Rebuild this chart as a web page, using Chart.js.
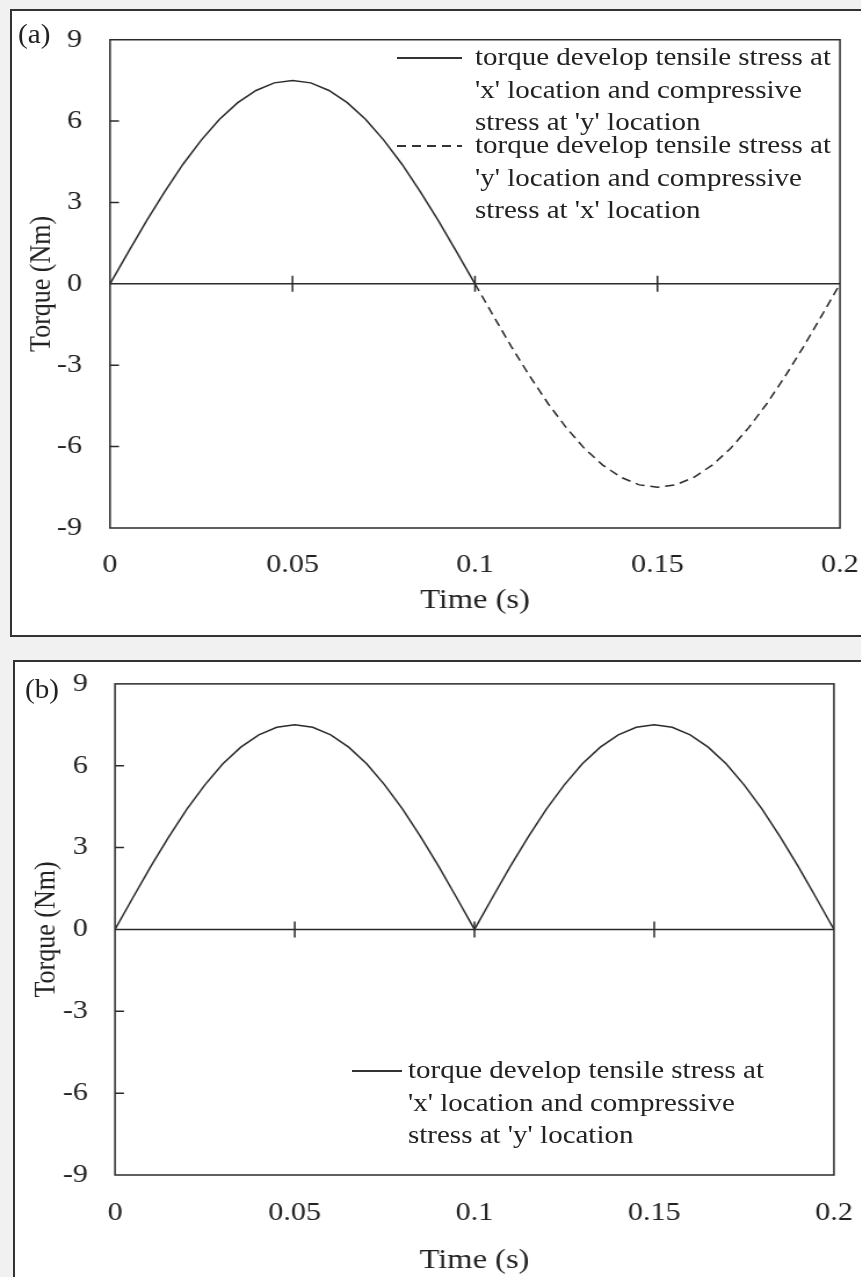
<!DOCTYPE html>
<html>
<head>
<meta charset="utf-8">
<script src="https://cdn.jsdelivr.net/npm/chart.js@4.4.1/dist/chart.umd.min.js"></script>
<style>
  html, body { margin: 0; padding: 0; }
  body { width: 861px; height: 1277px; overflow: hidden; position: relative; background: #f1f1f1; font-family: "Liberation Serif", "Times New Roman", serif; color: #222; }
  .panel { position: absolute; background: #fff; border: 2px solid #333; box-sizing: border-box; }
  /* the original figure is stretched sideways a little, so text and plot are drawn narrow and widened */
  .wrap { position: absolute; left: 0; transform-origin: 0 0; }
  .tag { position: absolute; font-size: 27px; line-height: 1; transform: scaleX(1.08); transform-origin: 0 0; }
  .legend { position: absolute; font-size: 25px; line-height: 32.5px; white-space: nowrap; transform-origin: 0 0; }
  .legend .sample { position: absolute; height: 1.5px; background: #333; }
  .legend .sample.dash { background: repeating-linear-gradient(90deg, #333 0 9px, transparent 9px 15px); }
</style>
</head>
<body>
<div class="panel" style="left:10px; top:9px; width:900px; height:628px;"></div>
<div class="panel" style="left:13px; top:660px; width:900px; height:700px;"></div>

<div class="wrap" id="wrapA" style="top:0; height:640px;"><canvas id="chartA"></canvas></div>
<div class="wrap" id="wrapB" style="top:645px; height:632px;"><canvas id="chartB"></canvas></div>

<div class="tag" style="left:18px; top:21px;">(a)</div>
<div class="tag" style="left:25px; top:676px;">(b)</div>

<div id="legendA"></div>
<div id="legendB"></div>

<script>
// values
const timeFirstHalf = [0, 0.005, 0.01, 0.015, 0.02, 0.025, 0.03, 0.035, 0.04, 0.045, 0.05,
  0.055, 0.06, 0.065, 0.07, 0.075, 0.08, 0.085, 0.09, 0.095, 0.1];
const timeSecondHalf = [0.1, 0.105, 0.11, 0.115, 0.12, 0.125, 0.13, 0.135, 0.14, 0.145, 0.15,
  0.155, 0.16, 0.165, 0.17, 0.175, 0.18, 0.185, 0.19, 0.195, 0.2];
const timeFull = [0, 0.005, 0.01, 0.015, 0.02, 0.025, 0.03, 0.035, 0.04, 0.045, 0.05,
  0.055, 0.06, 0.065, 0.07, 0.075, 0.08, 0.085, 0.09, 0.095, 0.1,
  0.105, 0.11, 0.115, 0.12, 0.125, 0.13, 0.135, 0.14, 0.145, 0.15,
  0.155, 0.16, 0.165, 0.17, 0.175, 0.18, 0.185, 0.19, 0.195, 0.2];

// (a) alternating torque
const torqueTensileX = [0, 1.17, 2.32, 3.40, 4.41, 5.30, 6.07, 6.68, 7.13, 7.41, 7.50,
  7.41, 7.13, 6.68, 6.07, 5.30, 4.41, 3.40, 2.32, 1.17, 0];
const torqueTensileY = [0, -1.17, -2.32, -3.40, -4.41, -5.30, -6.07, -6.68, -7.13, -7.41, -7.50,
  -7.41, -7.13, -6.68, -6.07, -5.30, -4.41, -3.40, -2.32, -1.17, 0];

// (b) one-direction torque
const torqueRectified = [0, 1.17, 2.32, 3.40, 4.41, 5.30, 6.07, 6.68, 7.13, 7.41, 7.50,
  7.41, 7.13, 6.68, 6.07, 5.30, 4.41, 3.40, 2.32, 1.17, 0,
  1.17, 2.32, 3.40, 4.41, 5.30, 6.07, 6.68, 7.13, 7.41, 7.50,
  7.41, 7.13, 6.68, 6.07, 5.30, 4.41, 3.40, 2.32, 1.17, 0];

const xTickValues = [0, 0.05, 0.1, 0.15, 0.2];
const xTickLabels = ['0', '0.05', '0.1', '0.15', '0.2'];
const yTickValues = [-9, -6, -3, 0, 3, 6, 9];
const yTickLabels = ['-9', '-6', '-3', '0', '3', '6', '9'];

const labelTensileX = ["torque develop tensile stress at", "'x' location and compressive", "stress at 'y' location"];
const labelTensileY = ["torque develop tensile stress at", "'y' location and compressive", "stress at 'x' location"];

const INK = '#2b2b2b';
const FONT = '"Liberation Serif", "Times New Roman", serif';
const K = 1.16;          // horizontal stretch of the original
const PAGE_W = 861;

function pts(xs, ys) {
    return xs.map((x, i) => ({ x: x, y: ys[i] }));
}

// frame, zero line with cross ticks, inner ticks on the y axis
const framePlugin = {
    id: 'frame',
    afterDatasetsDraw(chart) {
        const { ctx, chartArea: a, scales } = chart;
        const xs = scales.x, ys = scales.y;
        ctx.save();
        ctx.strokeStyle = INK;
        ctx.lineWidth = 1.5;
        ctx.strokeRect(a.left, a.top, a.right - a.left, a.bottom - a.top);
        const y0 = ys.getPixelForValue(0);
        ctx.beginPath();
        ctx.moveTo(a.left, y0);
        ctx.lineTo(a.right, y0);
        xTickValues.slice(1, -1).forEach(v => {
            const px = xs.getPixelForValue(v);
            ctx.moveTo(px, y0 - 8);
            ctx.lineTo(px, y0 + 8);
        });
        yTickValues.slice(1, -1).forEach(v => {
            const py = ys.getPixelForValue(v);
            ctx.moveTo(a.left, py);
            ctx.lineTo(a.left + 9 / K, py);
        });
        ctx.stroke();
        ctx.restore();
    }
};

// cfg values are page pixels; horizontal ones are divided by K
function makeOptions(cfg) {
    return {
        responsive: true, maintainAspectRatio: false, animation: false,
        layout: { padding: { top: cfg.padTop, right: (PAGE_W - cfg.plotRight) / K, left: 0, bottom: 0 } },
        plugins: { legend: { display: false }, tooltip: { enabled: false } },
        elements: { point: { radius: 0 }, line: { tension: 0, borderWidth: 1.5, borderColor: INK } },
        scales: {
            x: {
                type: 'linear', min: 0, max: 0.2,
                afterBuildTicks: s => { s.ticks = xTickValues.map(v => ({ value: v })); },
                afterFit: s => { s.height = cfg.xHeight; s.paddingLeft = 0; s.paddingRight = 0; },
                grid: { display: false, drawTicks: false },
                border: { display: false },
                ticks: { padding: cfg.xTickPad, color: '#222', font: { family: FONT, size: 26 },
                    maxRotation: 0, callback: (v, i) => xTickLabels[i] },
                title: { display: true, text: 'Time (s)', color: '#222',
                    font: { family: FONT, size: 28 }, padding: { top: 0, bottom: cfg.xTitlePad } }
            },
            y: {
                min: -9, max: 9,
                afterBuildTicks: s => { s.ticks = yTickValues.map(v => ({ value: v })); },
                afterFit: s => { s.width = cfg.plotLeft / K; },
                grid: { display: false, drawTicks: false },
                border: { display: false },
                ticks: { padding: cfg.yTickPad / K, color: '#222', font: { family: FONT, size: 26 },
                    callback: (v, i) => yTickLabels[i] },
                title: { display: true, text: 'Torque (Nm)', color: '#222',
                    font: { family: FONT, size: 26 }, padding: { top: cfg.yTitlePad / K, bottom: 0 } }
            }
        }
    };
}

['wrapA', 'wrapB'].forEach(id => {
    const w = document.getElementById(id);
    w.style.width = (PAGE_W / K) + 'px';
    w.style.transform = 'scaleX(' + K + ')';
});

new Chart(document.getElementById('chartA'), {
    type: 'scatter',
    data: {
        datasets: [
            { label: labelTensileX.join(' '), data: pts(timeFirstHalf, torqueTensileX), showLine: true },
            { label: labelTensileY.join(' '), data: pts(timeSecondHalf, torqueTensileY), showLine: true, borderDash: [8, 5] }
        ]
    },
    options: makeOptions({ padTop: 38, plotLeft: 110, plotRight: 840, xHeight: 112,
        xTickPad: 22, xTitlePad: 23, yTickPad: 28, yTitlePad: 24 }),
    plugins: [framePlugin]
});

new Chart(document.getElementById('chartB'), {
    type: 'scatter',
    data: {
        datasets: [
            { label: labelTensileX.join(' '), data: pts(timeFull, torqueRectified), showLine: true }
        ]
    },
    options: makeOptions({ padTop: 37, plotLeft: 115, plotRight: 834, xHeight: 102,
        xTickPad: 23, xTitlePad: 0, yTickPad: 27, yTitlePad: 28 }),
    plugins: [framePlugin]
});

// html legends
function legend(id, entries) {
    const box = document.getElementById(id);
    entries.forEach(e => {
        const s = document.createElement('div');
        s.className = 'legend';
        s.style.left = e.lineX + 'px';
        s.style.top = e.midY + 'px';
        s.innerHTML = '<div class="sample' + (e.dash ? ' dash' : '') + '" style="width:' + e.lineW + 'px"></div>';
        box.appendChild(s);
        const el = document.createElement('div');
        el.className = 'legend';
        el.style.left = e.textX + 'px';
        el.style.top = (e.midY - 16) + 'px';
        el.style.transform = 'scaleX(' + K + ')';
        el.innerHTML = e.lines.map(t => t.replace(/&/g, '&amp;')).join('<br>');
        box.appendChild(el);
    });
}

legend('legendA', [
    { lines: labelTensileX, textX: 475, midY: 57, lineX: 397, lineW: 65, dash: false },
    { lines: labelTensileY, textX: 475, midY: 145, lineX: 397, lineW: 65, dash: true }
]);
legend('legendB', [
    { lines: labelTensileX, textX: 408, midY: 1070, lineX: 352, lineW: 50, dash: false }
]);
</script>
</body>
</html>
